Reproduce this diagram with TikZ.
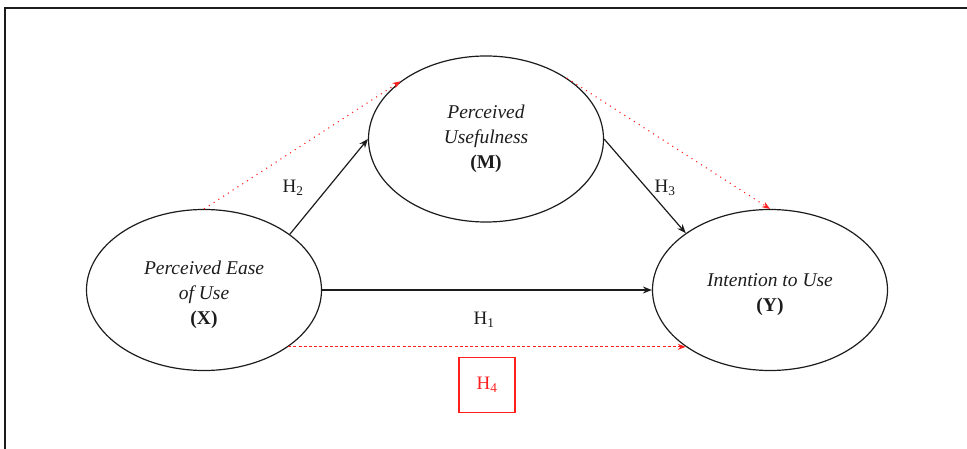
\documentclass[tikz,border=0pt]{standalone}
\usepackage{fontspec}
\setmainfont{Liberation Serif}
\usetikzlibrary{arrows.meta,shapes.geometric}
\definecolor{Ink}{HTML}{1C1C1C}
\definecolor{Hyp}{HTML}{FF1F1F}

\begin{document}
\begin{tikzpicture}[x=1pt,y=-1pt,
    construct/.style={draw=Ink,line width=1.2pt,ellipse,minimum width=235pt,minimum height=161pt,
      inner sep=0pt,align=center,text=Ink,font=\fontsize{19.5}{25}\selectfont},
    effect/.style={draw=Ink,line width=1.2pt,-{Stealth[length=9pt,width=7pt]}},
    indirect/.style={draw=Hyp,line width=1.1pt,dash pattern=on 1.1pt off 4.6pt,-{Stealth[length=8pt,width=6pt]}},
    total/.style={draw=Hyp,line width=0.9pt,dash pattern=on 3pt off 2.2pt,-{Stealth[length=8pt,width=6pt]}},
    hlabel/.style={text=Ink,font=\fontsize{19}{22}\selectfont},
    hbox/.style={draw=Hyp,line width=1.1pt,text=Hyp,minimum width=56pt,minimum height=55pt,font=\fontsize{19}{22}\selectfont}]
  \useasboundingbox (0,0) rectangle (967,449);
  \draw[Ink,line width=1.8pt] (967,8) -- (5,8) -- (5,449);

  \node[construct,text height=73pt] (X) at (204,290) {\textit{Perceived Ease}\\\textit{of Use}\\\textbf{(X)}};
  \node[construct,minimum height=166pt] (M) at (486,139) {\textit{Perceived}\\\textit{Usefulness}\\\textbf{(M)}};
  \node[construct,text height=47.5pt] (Y) at (770,290) {\textit{Intention to Use}\\\textbf{(Y)}};

  \draw[effect] (X.east) -- (Y.west);
  \draw[effect] (X.33) -- (M.west);
  \draw[effect] (M.east) -- (Y.146);
  \draw[indirect] (X.north) -- (M.146);
  \draw[indirect] (M.37) -- (Y.north);
  \draw[total] (X.-34) -- (Y.-146);

  \foreach \name/\x/\y/\k in {h1/484/320/1, h2/293/188/2, h3/665/188/3}{
    \node[hlabel] (\name) at (\x,\y) {H\textsubscript{\k}};
  }
  \node[hbox] (h4) at (487,385) {H\textsubscript{4}};
\end{tikzpicture}
\end{document}
